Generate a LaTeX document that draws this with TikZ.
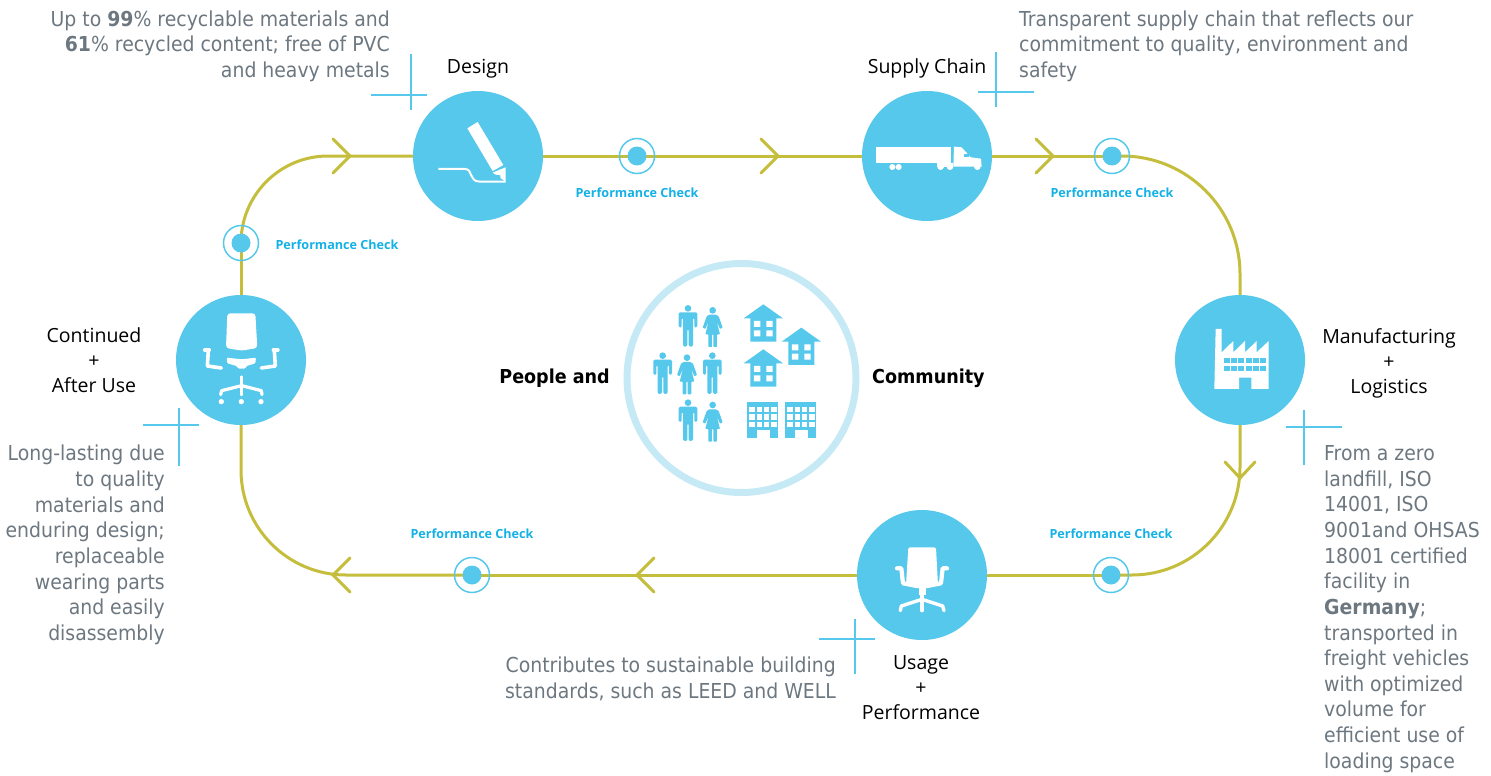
\documentclass[tikz,border=0pt]{standalone}
\usepackage{fontspec}
\usetikzlibrary{backgrounds}
\setmainfont{DejaVu Sans}[FakeStretch=0.915]
\newfontfamily\labfont{Open Sans}
\definecolor{cblue}{HTML}{55C8EB}
\definecolor{pcblue}{HTML}{13B1E6}
\definecolor{track}{HTML}{C5BD3C}
\definecolor{ringblue}{HTML}{C6E9F6}
\definecolor{txtgray}{HTML}{6C7780}
\tikzset{
  station/.style={circle,fill=cblue,minimum size=130pt,inner sep=0pt},
  trackline/.style={draw=track,line width=3pt},
  chevron/.style={draw=track,line width=3pt,line cap=round,line join=miter},
  checkdot/.style={circle,fill=cblue,minimum size=19pt,inner sep=0pt},
  checkring/.style={circle,draw=cblue,line width=1.5pt,minimum size=35pt,inner sep=0pt},
  pclabel/.style={text=pcblue,font=\labfont\bfseries\fontsize{12.6}{15}\selectfont,inner sep=0pt},
  steplabel/.style={text=black,font=\labfont\fontsize{19.5}{25}\selectfont,align=center,inner sep=0pt},
  note/.style={text=txtgray,font=\fontsize{20.6}{25.65}\selectfont,inner sep=0pt},
  crossline/.style={draw=cblue,line width=1.3pt},
  centerlabel/.style={text=black,font=\bfseries\fontsize{19.2}{24}\selectfont,inner sep=0pt},
  icon/.style={fill=white,draw=none},
  iconline/.style={draw=white,line cap=round,line join=round},
  cityicon/.style={fill=cblue,draw=none},
}
\newcommand{\manfig}[2]{%
  \begin{scope}[shift={(#1,#2)}]
    \fill[cityicon] (0,0) circle (10);
    \fill[cityicon,rounded corners=1.5pt] (-28,58) -- (-28,12) -- (28,12) -- (28,58) -- (19,58) -- (19,28) -- (15,28) -- (15,115) -- (2,115) -- (2,62) -- (-2,62) -- (-2,115) -- (-15,115) -- (-15,28) -- (-19,28) -- (-19,58) -- cycle;
  \end{scope}}
\newcommand{\womanfig}[2]{%
  \begin{scope}[shift={(#1,#2)}]
    \fill[cityicon] (0,0) circle (10);
    \fill[cityicon,rounded corners=.7pt] (-10,13) -- (10,13) -- (18,18) -- (30,52) -- (22,56) -- (12,32) -- (22,72) -- (13,72) -- (13,110) -- (2,110) -- (2,72) -- (-2,72) -- (-2,110) -- (-13,110) -- (-13,72) -- (-22,72) -- (-12,32) -- (-22,56) -- (-30,52) -- (-18,18) -- cycle;
  \end{scope}}
\newcommand{\housefig}[2]{%
  \begin{scope}[shift={(#1,#2)}]
    \fill[cityicon] (0,0) -- (59,42) -- (39,42) -- (39,112) -- (-39,112) -- (-39,42) -- (-59,42) -- cycle;
    \fill[white] (-28,50) rectangle (-9,68) (9,50) rectangle (28,68) (-28,78) rectangle (-9,96) (9,78) rectangle (28,96);
  \end{scope}}
\newcommand{\blockfig}[2]{%
  \begin{scope}[shift={(#1,#2)}]
    \fill[cityicon] (0,0) rectangle (93,108);
    \foreach \cx in {6,28,50,72} \foreach \cy in {15,38,61}
      \fill[white] (\cx,\cy) rectangle ++(16,16);
    \fill[white] (28,85) rectangle (67,108);
  \end{scope}}
\begin{document}
\begin{tikzpicture}[x=1pt,y=-1pt]
\useasboundingbox (0,0) rectangle (1491,776);
% stations
\node[station] (design) at (478,156) {};
\node[station] (supply) at (927,156) {};
\node[station] (mfg) at (1240,360) {};
\node[station] (usage) at (922,575) {};
\node[station] (after) at (241,360) {};
% checks
\foreach \n/\px/\py in {c1/637/156,c2/1112/156,c3/1111/575,c4/472/575,c5/241/243}{
  \node[checkring] (\n r) at (\px,\py) {};
  \node[checkdot] (\n) at (\px,\py) {};
}
% track
\begin{pgfonlayer}{background}
\draw[trackline] (design.center) -- (c1.center);
\draw[trackline] (c1.center) -- (supply.center);
\draw[trackline] (supply.center) -- (c2.center);
\draw[trackline,rounded corners=118pt] (c2.center) -| (mfg.center);
\draw[trackline,rounded corners=108pt] (mfg.center) |- (c3.center);
\draw[trackline] (c3.center) -- (usage.center);
\draw[trackline] (usage.center) -- (c4.center);
\draw[trackline,rounded corners=105pt] (c4.center) -| (after.center);
\draw[trackline] (after.center) -- (c5.center);
\draw[trackline,rounded corners=87pt] (c5.center) |- (design.center);
\end{pgfonlayer}
% chevrons
\foreach \tx/\ty in {350/156,778/156,1053/156}
  \draw[chevron] (\tx-17,\ty-17) -- (\tx,\ty) -- (\tx-17,\ty+17);
\draw[chevron] (1225,462) -- (1240,478) -- (1255,462);
\foreach \tx/\ty in {333/575,637/575}
  \draw[chevron] (\tx+17,\ty-17) -- (\tx,\ty) -- (\tx+17,\ty+17);
% crosses
\draw[crossline] (371,95) -- (427,95) (411,54) -- (411,110);
\draw[crossline] (978,92) -- (1034,92) (996,52) -- (996,107);
\draw[crossline] (1286,427) -- (1342,427) (1304,410) -- (1304,465);
\draw[crossline] (819,639) -- (875,639) (855,619) -- (855,674);
\draw[crossline] (143,425) -- (199,425) (179,408) -- (179,466);
% pencil
\begin{scope}[shift={(360,80)},x=.3333pt,y=-.3333pt]
  \fill[icon] (322,145) -- (353,126) -- (430,255) -- (398,273) -- cycle;
  \fill[icon] (398,278) -- (437,262) -- (437,305) -- cycle;
  \fill[cblue] (400,284) -- (421,286) -- (421,296) -- cycle;
  \draw[iconline,line width=2pt,line cap=butt] (235,267) -- (315,267) .. controls (340,267) and (325,305) .. (360,305) -- (437,305);
\end{scope}
% truck
\begin{scope}[shift={(850,70)},x=.3333pt,y=-.3333pt]
  \fill[icon] (78,230) rectangle (303,280);
  \fill[icon] (262,280) rectangle (310,290);
  \fill[icon] (312,230) -- (335,232) -- (362,262) -- (393,266) -- (395,290) -- (310,290) -- cycle;
  \fill[cblue] (342,252) rectangle (357,262);
  \fill[icon] (127,291) circle (9) (146,291) circle (9) (272,290) circle (10) (300,290) circle (10) (382,290) circle (10);
\end{scope}
% factory
\begin{scope}[shift={(1160,290)},x=.3333pt,y=-.3333pt]
  \fill[icon] (163,297) -- (167,117) -- (185,117) -- (185,187) -- (220,153) -- (220,187) -- (255,153) -- (255,187) -- (290,153) -- (290,187) -- (326,153) -- (326,297) -- (274,297) -- (274,263) -- (237,263) -- (237,297) -- cycle;
  \foreach \cx in {191,213,235,257,279,301} \foreach \cy in {203,227}
    \fill[cblue] (\cx,\cy) rectangle ++(18,16);
\end{scope}
% front chair
\begin{scope}[shift={(810,500)},x=.3333pt,y=-.3333pt]
  \fill[icon,rounded corners=1.5pt] (295,142) -- (378,142) -- (384,256) -- (288,256) -- cycle;
  \draw[iconline,line width=4.2pt] (261,205) -- (274,205) -- (279,250) -- (320,258) -- (352,258) -- (393,250) -- (398,205) -- (411,205);
  \fill[icon] (326,255) rectangle (347,285);
  \draw[iconline,line width=3.4pt] (336,280) -- (336,332);
  \draw[iconline,line width=3.4pt] (271,332) -- (274,318) -- (336,298) -- (398,318) -- (402,332);
\end{scope}
% side chair
\begin{scope}[shift={(170,220)},x=.3333pt,y=-.3333pt]
  \fill[icon,rounded corners=3pt] (172,280) -- (256,280) -- (262,384) -- (215,392) -- (168,384) -- cycle;
  \fill[icon,rounded corners=1pt] (170,413) -- (215,418) -- (258,413) -- (256,430) -- (230,438) -- (225,446) -- (205,446) -- (200,438) -- (172,430) -- cycle;
  \draw[iconline,line width=3.4pt] (104,390) -- (118,390);
  \draw[iconline,line width=3.6pt] (115,392) -- (112,438) -- (154,444);
  \draw[iconline,line width=3.4pt] (324,390) -- (310,390);
  \draw[iconline,line width=3.6pt] (313,392) -- (316,438) -- (274,444);
  \draw[iconline,line width=2.5pt] (215,470) -- (215,525);
  \draw[iconline,line width=3.2pt] (152,524) -- (155,512) -- (215,497) -- (274,512) -- (276,524);
  \fill[icon] (154,545) circle (8) (214,545) circle (8) (273,545) circle (8);
\end{scope}
% community
\node[circle,draw=ringblue,line width=7pt,minimum size=229pt,inner sep=0pt] (ring) at (741.5,378) {};
\begin{scope}[shift={(620,255)},x=.3333pt,y=-.3333pt]
  \manfig{204}{160}\manfig{128}{302}\manfig{277}{302}\manfig{204}{443}
  \womanfig{278}{166}\womanfig{201}{308}\womanfig{278}{450}
  \housefig{430}{148}\housefig{544}{218}\housefig{430}{283}
  \blockfig{382}{440}\blockfig{496}{440}
\end{scope}
% text
\node[centerlabel,anchor=east] (peo) at (610,378) {People and};
\node[centerlabel,anchor=west] (com) at (872,378) {Community};
\node[steplabel] (ldesign) at (478,68.5) {Design};
\node[steplabel] (lsupply) at (927,68.5) {Supply Chain};
\node[steplabel] (lmfg) at (1389,363) {Manufacturing\\+\\Logistics};
\node[steplabel] (lusage) at (921,688) {Usage\\+\\Performance};
\node[steplabel] (lafter) at (94,360.5) {Continued\\+\\After Use};
\node[pclabel] (p1) at (637,192.5) {Performance Check};
\node[pclabel] (p2) at (1112,192.5) {Performance Check};
\node[pclabel] (p3) at (1111,533.5) {Performance Check};
\node[pclabel] (p4) at (472,533.5) {Performance Check};
\node[pclabel] (p5) at (337,244.5) {Performance Check};
\node[note,align=right,anchor=east] (n1) at (390,46) {Up to \textbf{99}\% recyclable materials and\\\textbf{61}\% recycled content; free of PVC\\and heavy metals};
\node[note,align=left,anchor=west] (n2) at (1019,46) {Transparent supply chain that reflects our\\commitment to quality, environment and\\safety};
\node[note,align=left,anchor=west] (n3) at (1324,609) {From a zero\\landfill, ISO\\14001, ISO\\9001and OHSAS\\18001 certified\\facility in\\\textbf{Germany};\\transported in\\freight vehicles\\with optimized\\volume for\\efficient use of\\loading space};
\node[note,align=right,anchor=east] (n4) at (836,679) {Contributes to sustainable building\\standards, such as LEED and WELL};
\node[note,align=right,anchor=east] (n5) at (165,545) {Long-lasting due\\to quality\\materials and\\enduring design;\\replaceable\\wearing parts\\and easily\\disassembly};
\end{tikzpicture}
\end{document}
